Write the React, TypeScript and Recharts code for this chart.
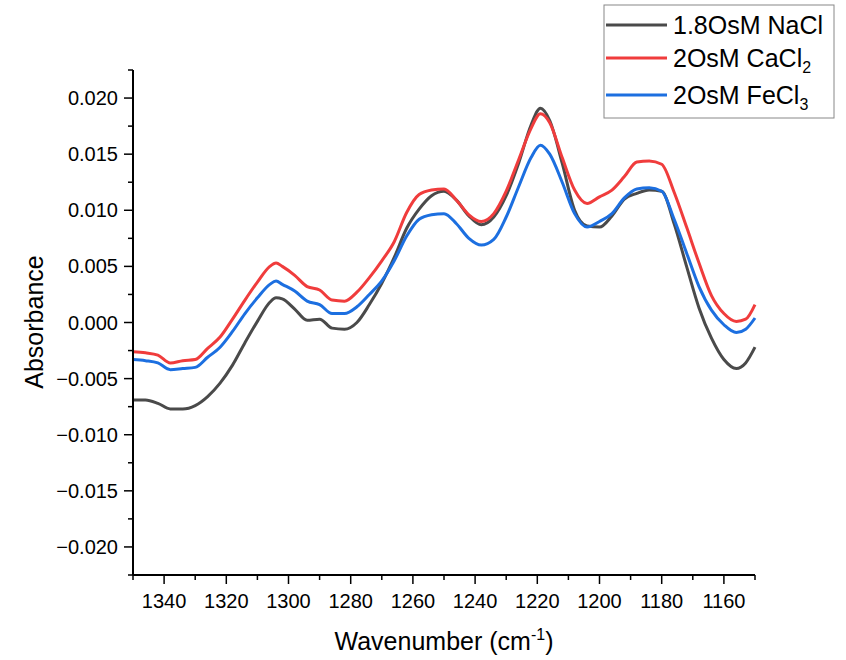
import React from 'react';
import { LineChart, Line, XAxis, YAxis } from 'recharts';

// wavenumber (cm-1), shared by all three spectra
const wavenumbers = [
  1350, 1346, 1342, 1338, 1334, 1330, 1326, 1322, 1318, 1314, 1310, 1306, 1304, 1302,
  1298, 1294, 1290, 1286, 1282, 1278, 1274, 1270, 1266, 1262, 1258, 1254, 1250, 1246,
  1242, 1238, 1234, 1230, 1226, 1222, 1219, 1216, 1212, 1208, 1204, 1200, 1196, 1192,
  1188, 1184, 1180, 1176, 1172, 1168, 1164, 1160, 1156, 1153, 1150,
];

const nacl = [
  -0.0069, -0.0069, -0.0072, -0.0077, -0.0077, -0.0074, -0.0066, -0.0054, -0.0038, -0.0018, 0.0001, 0.0018, 0.0022, 0.0021,
  0.0012, 0.0002, 0.0003, -0.0005, -0.0006, 0.0, 0.0016, 0.0035, 0.0058, 0.0084, 0.0101, 0.0113, 0.0117, 0.0109,
  0.0095, 0.0087, 0.0094, 0.0113, 0.0142, 0.0176, 0.0191, 0.018, 0.0142, 0.01, 0.0086, 0.0085, 0.0095, 0.011,
  0.0115, 0.0118, 0.0117, 0.0088, 0.005, 0.0013, -0.0014, -0.0033, -0.0041, -0.0036, -0.0022,
];

const cacl2 = [
  -0.0026, -0.0027, -0.0029, -0.0036, -0.0034, -0.0033, -0.0023, -0.0013, 0.0003, 0.002, 0.0036, 0.005, 0.0053, 0.005,
  0.0042, 0.0032, 0.0029, 0.002, 0.0019, 0.0027, 0.004, 0.0055, 0.0072, 0.0098, 0.0114, 0.0118, 0.0119, 0.0109,
  0.0096, 0.009, 0.0097, 0.0117, 0.0145, 0.0173, 0.0186, 0.0178, 0.0147, 0.0118, 0.0106, 0.0112, 0.0118, 0.013,
  0.0143, 0.0144, 0.0141, 0.0116, 0.0085, 0.0053, 0.0024, 0.0008, 0.0001, 0.0003, 0.0016,
];

const fecl3 = [
  -0.0033, -0.0034, -0.0036, -0.0042, -0.0041, -0.004, -0.0031, -0.0022, -0.0008, 0.0008, 0.0022, 0.0034, 0.0037, 0.0034,
  0.0028, 0.0019, 0.0016, 0.0008, 0.0008, 0.0014, 0.0025, 0.0037, 0.0055, 0.0077, 0.0092, 0.0096, 0.0097, 0.0088,
  0.0075, 0.0069, 0.0074, 0.0094, 0.0121, 0.0147, 0.0158, 0.015, 0.0125, 0.0097, 0.0085, 0.009, 0.0097, 0.0111,
  0.0119, 0.012, 0.0117, 0.0092, 0.0062, 0.0032, 0.0011, -0.0002, -0.0009, -0.0006, 0.0004,
];

const xTicks = [1350, 1340, 1330, 1320, 1310, 1300, 1290, 1280, 1270, 1260, 1250, 1240, 1230, 1220, 1210, 1200, 1190, 1180, 1170, 1160, 1150];
const xLabels = [1340, 1320, 1300, 1280, 1260, 1240, 1220, 1200, 1180, 1160];
const yTicks = [
  -0.0225, -0.02, -0.0175, -0.015, -0.0125, -0.01, -0.0075, -0.005, -0.0025, 0,
  0.0025, 0.005, 0.0075, 0.01, 0.0125, 0.015, 0.0175, 0.02, 0.0225,
];
const yLabels = [-0.02, -0.015, -0.01, -0.005, 0, 0.005, 0.01, 0.015, 0.02];

const data = wavenumbers.map((w, i) => ({ w, nacl: nacl[i], cacl2: cacl2[i], fecl3: fecl3[i] }));

const FONT = '"Liberation Sans", Arial, sans-serif';
const GREY = '#4a4a4a';
const RED = '#f03c3c';
const BLUE = '#1c6fe0';

const isLabel = (list: number[], v: number) => list.some((t) => Math.abs(t - v) < 1e-9);

const XTick = (props: any) => {
  const { x, y, payload } = props;
  const major = isLabel(xLabels, payload.value);
  return (
    <g>
      <line x1={x} x2={x} y1={y} y2={y + (major ? 9 : 5)} stroke="#000" strokeWidth={1.5} />
      {major && (
        <text x={x} y={y + 33} textAnchor="middle" fontSize={20} fontFamily={FONT} fill="#000">
          {payload.value}
        </text>
      )}
    </g>
  );
};

const YTick = (props: any) => {
  const { x, y, payload } = props;
  const v = payload.value;
  const major = isLabel(yLabels, v);
  const txt = (v < 0 ? '\u2212' : '') + Math.abs(v).toFixed(3);
  return (
    <g>
      <line x1={x} x2={x - (major ? 9 : 5)} y1={y} y2={y} stroke="#000" strokeWidth={1.5} />
      {major && (
        <text x={x - 15} y={y} dy="0.35em" textAnchor="end" fontSize={20} fontFamily={FONT} fill="#000">
          {txt}
        </text>
      )}
    </g>
  );
};

const legendItems = [
  { color: GREY, main: '1.8OsM NaCl', sub: '' },
  { color: RED, main: '2OsM CaCl', sub: '2' },
  { color: BLUE, main: '2OsM FeCl', sub: '3' },
];

export default function App() {
  return (
    <div style={{ position: 'relative', width: 846, height: 660, background: '#fff' }}>
      <style>{'body{margin:0}'}</style>
      <LineChart width={846} height={660} data={data} margin={{ top: 70, right: 91, bottom: 25, left: 0 }}>
        <XAxis
          dataKey="w"
          type="number"
          domain={[1150, 1350]}
          reversed
          ticks={xTicks}
          interval={0}
          tick={<XTick />}
          tickLine={false}
          tickSize={0}
          tickMargin={0}
          height={60}
          axisLine={{ stroke: '#000', strokeWidth: 2 }}
        />
        <YAxis
          type="number"
          domain={[-0.0225, 0.0225]}
          ticks={yTicks}
          interval={0}
          tick={<YTick />}
          tickLine={false}
          tickSize={0}
          tickMargin={0}
          width={133}
          axisLine={{ stroke: '#000', strokeWidth: 2 }}
        />
        <Line type="monotone" dataKey="nacl" stroke={GREY} strokeWidth={3} dot={false} isAnimationActive={false} />
        <Line type="monotone" dataKey="fecl3" stroke={BLUE} strokeWidth={3} dot={false} isAnimationActive={false} />
        <Line type="monotone" dataKey="cacl2" stroke={RED} strokeWidth={3} dot={false} isAnimationActive={false} />
      </LineChart>
      <svg width={846} height={660} style={{ position: 'absolute', left: 0, top: 0, pointerEvents: 'none' }}>
        <text x={444} y={650} textAnchor="middle" fontSize={25} fontFamily={FONT} fill="#000">
          Wavenumber (cm
          <tspan fontSize={16} dy={-10}>-1</tspan>
          <tspan dy={10}>)</tspan>
        </text>
        <text
          x={43}
          y={322}
          transform="rotate(-90 43 322)"
          textAnchor="middle"
          fontSize={25}
          fontFamily={FONT}
          fill="#000"
        >
          Absorbance
        </text>
        <rect x={604} y={5} width={230} height={113} fill="#fff" stroke="#888" strokeWidth={1} />
        {legendItems.map((it, i) => {
          const cy = [25, 58, 95][i];
          return (
            <g key={it.main}>
              <line x1={606} x2={667} y1={cy} y2={cy} stroke={it.color} strokeWidth={3} />
              <text x={673} y={cy + 9} fontSize={25} fontFamily={FONT} fill="#000">
                {it.main}
                {it.sub && (
                  <tspan fontSize={16} dy={6}>
                    {it.sub}
                  </tspan>
                )}
              </text>
            </g>
          );
        })}
      </svg>
    </div>
  );
}
